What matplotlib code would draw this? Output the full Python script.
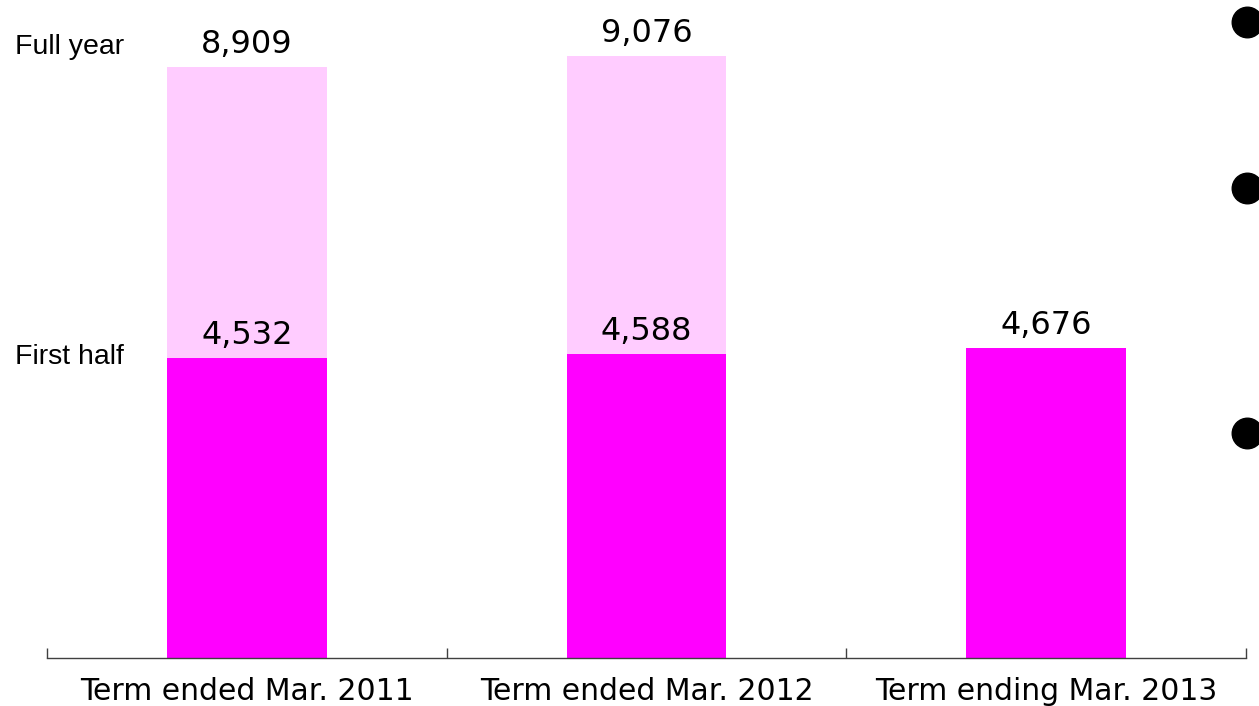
import matplotlib
matplotlib.use("Agg")
import matplotlib.pyplot as plt
from matplotlib.lines import Line2D
import numpy as np

categories = ["Term ended Mar. 2011", "Term ended Mar. 2012", "Term ending Mar. 2013"]
first_half = [4532, 4588, 4676]
full_year = [8909, 9076, None]

C_FIRST = "#FF00FF"
C_FULL = "#FFCCFF"

fig = plt.figure(figsize=(12.59, 7.06), dpi=100)
ax = fig.add_axes([47 / 1259, 48 / 706, (1246 - 47) / 1259, 658 / 706])

x = np.arange(len(categories))
w = 0.4
num_font = ["DejaVu Sans"]

for i in range(len(categories)):
    if full_year[i] is not None:
        ax.bar(x[i], full_year[i], width=w, color=C_FULL, zorder=1)
        ax.annotate(f"{full_year[i]:,}", (x[i], full_year[i]), xytext=(0, 5),
                    textcoords="offset points", ha="center", va="bottom",
                    fontsize=23, family=num_font, color="black")
    ax.bar(x[i], first_half[i], width=w, color=C_FIRST, zorder=2)
    ax.annotate(f"{first_half[i]:,}", (x[i], first_half[i]), xytext=(0, 5),
                textcoords="offset points", ha="center", va="bottom",
                fontsize=23, family=num_font, color="black")

ax.set_xlim(-0.5, 2.5)
ax.set_ylim(0, 658 / 0.0663)

for s in ["top", "right", "left"]:
    ax.spines[s].set_visible(False)
ax.spines["bottom"].set_color("#404040")
ax.spines["bottom"].set_linewidth(1.0)
ax.set_yticks([])

ax.set_xticks(x)
ax.set_xticklabels(categories, family=num_font, fontsize=21.5)
ax.tick_params(axis="x", which="major", length=0, pad=14)
ax.set_xticks([-0.5, 0.5, 1.5, 2.5], minor=True)
ax.tick_params(axis="x", which="minor", direction="in", length=7, width=1.0, color="#404040")

fig.text(15 / 1259, 1 - 47 / 706, "Full year", family=["Liberation Sans"], fontsize=20.5,
         va="center", ha="left")
fig.text(15 / 1259, 1 - 357 / 706, "First half", family=["Liberation Sans"], fontsize=20.5,
         va="center", ha="left")

for yy in [22, 188, 433]:
    fig.add_artist(Line2D([1247 / 1259], [1 - yy / 706], marker="o", markersize=22,
                          color="black", transform=fig.transFigure, linestyle="none"))

fig.savefig("out.png", dpi=100)
